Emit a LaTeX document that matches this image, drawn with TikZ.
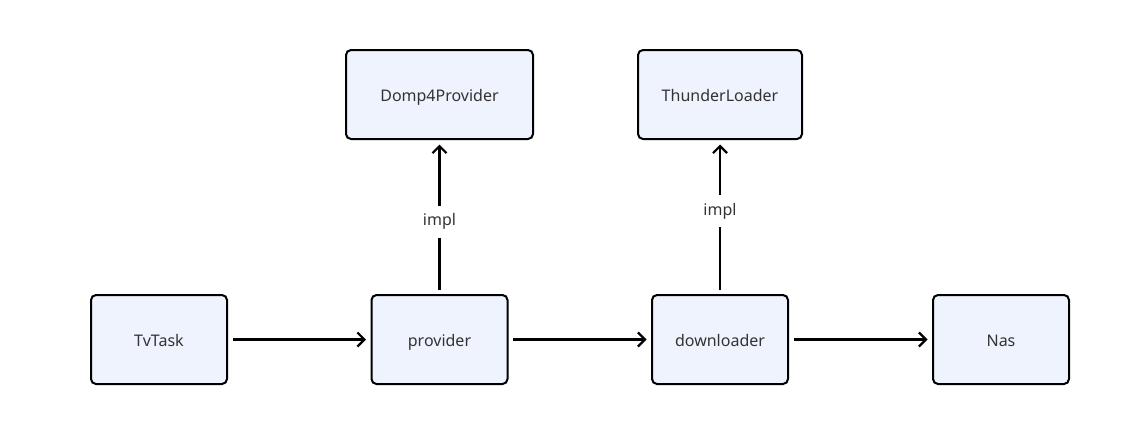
\documentclass[tikz,border=0pt]{standalone}
\usepackage{fontspec}
\setmainfont{Noto Sans}
\usepackage{xcolor}
\usepackage{tikz}
\usetikzlibrary{arrows.meta,positioning}

\definecolor{boxfill}{HTML}{EEF3FD}
\definecolor{txtgray}{HTML}{333333}

\tikzset{
    block/.style={
        draw,
        line width=2pt,
        rounded corners=5pt,
        fill=boxfill,
        minimum width=136pt,
        minimum height=89pt,
        text=txtgray,
        text height=14pt,
        text depth=0pt,
        font=\fontsize{16}{19}\selectfont
    },
    flow/.style={
        -{Straight Barb[length=7pt,width=14pt]},
        line width=2.2pt,
        shorten >=4.5pt,
        shorten <=4.5pt
    },
    tag/.style={
        fill=white,
        inner xsep=2pt,
        inner ysep=8pt,
        text=txtgray,
        font=\fontsize{16}{19}\selectfont
    }
}

\begin{document}
\begin{tikzpicture}[x=1pt,y=-1pt]
                \useasboundingbox (0,0) rectangle (1124,440);

                \node[block] (tvtask) at (159,339.5) {TvTask};
                \node[block] (provider) at (439.5,339.5) {provider};
                \node[block] (downloader) at (720,339.5) {downloader};
                \node[block] (nas) at (1001,339.5) {Nas};

                \node[
                    block,
                    minimum width=187pt
                    ] (domp) at (439.5,94.5) {Domp4Provider};

                \node[
                    block,
                    minimum width=164pt
                    ] (thunder) at (720,94.5) {ThunderLoader};

                \draw[flow] (tvtask) -- (provider);
                \draw[flow] (provider) -- (downloader);
                \draw[flow] (downloader) -- (nas);

                \draw[
                    flow
                    ] (provider) -- node[tag, pos=.47] {impl} (domp);

                \draw[
                    flow
                    ] (downloader) -- node[tag, pos=.54] {impl} (thunder);

\end{tikzpicture}
\end{document}
